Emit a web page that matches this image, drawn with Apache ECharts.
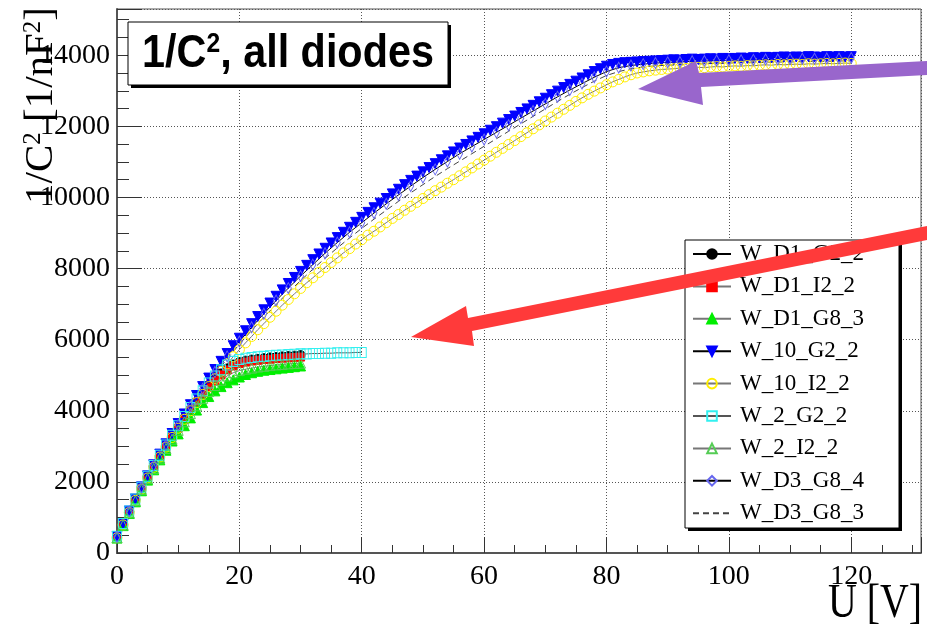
<!DOCTYPE html>
<html>
<head>
<meta charset="utf-8">
<script src="https://cdn.jsdelivr.net/npm/echarts@6/dist/echarts.min.js"></script>
<style>html,body{margin:0;padding:0;background:#fff}#chart{width:927px;height:625px}</style>
</head>
<body>
<div id="chart"></div>
<script>
// ---- Data ----
const U_0_120 = [0,1,2,3,4,5,6,7,8,9,10,11,12,13,14,15,16,17,18,19,20,21,22,23,24,25,26,27,28,29,30,31,32,33,34,35,36,37,38,39,40,41,42,43,44,45,46,47,48,49,50,51,52,53,54,55,56,57,58,59,60,61,62,63,64,65,66,67,68,69,70,71,72,73,74,75,76,77,78,79,80,81,82,83,84,85,86,87,88,89,90,91,92,93,94,95,96,97,98,99,100,101,102,103,104,105,106,107,108,109,110,111,112,113,114,115,116,117,118,119,120];
const U_0_120_step2 = [0,2,4,6,8,10,12,14,16,18,20,22,24,26,28,30,32,34,36,38,40,42,44,46,48,50,52,54,56,58,60,62,64,66,68,70,72,74,76,78,80,82,84,86,88,90,92,94,96,98,100,102,104,106,108,110,112,114,116,118,120];
const U_0_30 = [0,1,2,3,4,5,6,7,8,9,10,11,12,13,14,15,16,17,18,19,20,21,22,23,24,25,26,27,28,29,30];
const U_0_40 = [0,1,2,3,4,5,6,7,8,9,10,11,12,13,14,15,16,17,18,19,20,21,22,23,24,25,26,27,28,29,30,31,32,33,34,35,36,37,38,39,40];

const W_D1_G2_2 = [450,810,1160,1500,1830,2140,2440,2730,3010,3280,3540,3790,4030,4260,4480,4690,4880,5050,5190,5300,5370,5410,5440,5460,5480,5500,5510,5530,5540,5550,5570];
const W_D1_I2_2 = [440,800,1150,1490,1810,2120,2420,2710,2990,3260,3510,3760,4000,4230,4450,4650,4840,5010,5150,5260,5330,5370,5400,5420,5440,5450,5470,5480,5490,5500,5510];
const W_D1_G8_3 = [420,770,1110,1440,1750,2050,2340,2620,2890,3150,3350,3580,3800,4020,4230,4400,4560,4680,4790,4870,4950,5020,5070,5110,5140,5160,5180,5200,5220,5240,5260];
const W_10_G2_2 = [460,820,1180,1520,1860,2170,2480,2780,3070,3360,3640,3910,4170,4430,4680,4920,5160,5390,5610,5830,6040,6250,6450,6650,6840,7030,7220,7400,7580,7750,7920,8090,8250,8410,8570,8720,8870,9020,9160,9300,9440,9580,9710,9840,9970,10100,10230,10360,10480,10600,10720,10840,10950,11060,11170,11280,11390,11490,11590,11690,11790,11890,11990,12090,12190,12290,12390,12490,12590,12690,12790,12890,12990,13090,13180,13270,13360,13450,13540,13620,13690,13740,13770,13790,13800,13810,13820,13830,13840,13850,13860,13870,13860,13880,13890,13880,13890,13900,13890,13910,13900,13910,13920,13910,13930,13920,13940,13930,13940,13950,13940,13950,13940,13960,13950,13940,13960,13950,13960,13950,13960];
const W_10_I2_2 = [430,790,1140,1480,1800,2110,2410,2700,2980,3250,3510,3760,4000,4230,4460,4680,4900,5110,5320,5520,5720,5910,6090,6280,6450,6630,6800,6970,7130,7290,7440,7600,7740,7890,8030,8170,8300,8440,8560,8690,8810,8940,9050,9170,9290,9410,9520,9640,9750,9860,9970,10080,10190,10290,10400,10500,10610,10720,10830,10940,11050,11160,11270,11380,11490,11600,11710,11820,11930,12040,12150,12260,12370,12480,12590,12700,12800,12900,12990,13080,13170,13250,13320,13390,13450,13500,13530,13560,13580,13600,13610,13620,13640,13630,13650,13660,13650,13670,13680,13670,13690,13700,13690,13710,13700,13720,13730,13720,13740,13730,13740,13750,13740,13760,13750,13760,13770,13760,13770,13780,13770];
const W_2_G2_2 = [470,830,1180,1520,1850,2160,2460,2750,3040,3310,3580,3840,4090,4330,4560,4780,4980,5150,5290,5390,5440,5480,5500,5520,5530,5550,5560,5570,5580,5590,5600,5600,5610,5610,5620,5620,5630,5630,5630,5640,5640];
const W_2_I2_2 = [430,790,1130,1470,1790,2090,2380,2670,2940,3200,3450,3690,3920,4140,4350,4540,4710,4860,4980,5070,5130,5170,5200,5230,5250,5270,5290,5300,5320,5330,5340];
const W_D3_G8_4 = [450,1170,1840,2460,3040,3600,4120,4620,5090,5530,5950,6350,6730,7100,7450,7790,8110,8430,8730,9020,9290,9560,9820,10070,10320,10560,10790,11010,11230,11430,11630,11830,12030,12230,12430,12630,12830,13020,13200,13380,13540,13650,13710,13750,13780,13800,13810,13830,13840,13850,13860,13860,13870,13880,13880,13890,13900,13900,13910,13910,13920];
const W_D3_G8_3 = [440,1160,1830,2440,3020,3570,4080,4570,5030,5460,5870,6260,6630,6990,7330,7660,7980,8290,8580,8860,9130,9390,9640,9890,10130,10360,10590,10810,11020,11230,11440,11650,11860,12070,12280,12490,12700,12900,13090,13270,13430,13540,13620,13670,13700,13720,13730,13750,13760,13770,13780,13790,13790,13800,13810,13810,13820,13830,13830,13840,13840];

const seriesNames = ['W_D1_G2_2','W_D1_I2_2','W_D1_G8_3','W_10_G2_2','W_10_I2_2','W_2_G2_2','W_2_I2_2','W_D3_G8_4','W_D3_G8_3'];
const xTicks = [0,20,40,60,80,100,120];
const yTicks = [0,2000,4000,6000,8000,10000,12000,14000];

function pairs(xs, ys){ return xs.map((x,i)=>[x, ys[i]]); }

const SERIF = '"Liberation Serif", "Times New Roman", serif';
const SANS = '"Liberation Sans", Arial, sans-serif';

function mk(name, xs, ys, sym, size, fill, stroke, lineColor, extra){
  return Object.assign({
    name: name, type: 'line', data: pairs(xs, ys),
    symbol: sym, symbolSize: size, showAllSymbol: true,
    itemStyle: { color: fill, borderColor: stroke, borderWidth: 1 },
    lineStyle: { color: lineColor, width: 1 },
    emphasis: { disabled: true },
    z: 2
  }, extra || {});
}

const series = [
  mk(seriesNames[0], U_0_30, W_D1_G2_2, 'circle', 9, '#000', '#000', '#000'),
  mk(seriesNames[1], U_0_30, W_D1_I2_2, 'rect', 8, '#ff0000', '#ff0000', '#777'),
  mk(seriesNames[2], U_0_30, W_D1_G8_3, 'triangle', 10, '#00ee00', '#00ee00', '#777'),
  mk(seriesNames[3], U_0_120, W_10_G2_2, 'triangle', 10, '#0000ff', '#0000ff', '#000', {symbolRotate: 180}),
  mk(seriesNames[4], U_0_120, W_10_I2_2, 'circle', 10, 'rgba(0,0,0,0)', '#ffee00', '#777'),
  mk(seriesNames[5], U_0_40, W_2_G2_2, 'rect', [9,10], 'rgba(0,0,0,0)', '#33f0f0', '#555'),
  mk(seriesNames[6], U_0_30, W_2_I2_2, 'triangle', 10, 'rgba(0,0,0,0)', '#55cc55', '#777'),
  mk(seriesNames[7], U_0_120_step2, W_D3_G8_4, 'diamond', [6,11], 'rgba(0,0,0,0)', '#6666ee', '#000'),
  mk(seriesNames[8], U_0_120_step2, W_D3_G8_3, 'circle', 1, 'rgba(0,0,0,0)', 'rgba(0,0,0,0)', '#555', {showSymbol: false, lineStyle: {color: '#444', width: 1, type: [6,4]}})
];

const chart = echarts.init(document.getElementById('chart'), null, {renderer: 'canvas'});
chart.setOption({
  animation: false,
  backgroundColor: '#fff',
  grid: { left: 117, top: 9, right: 6, bottom: 72, show: true, borderColor: '#555', borderWidth: 1, containLabel: false, outerBoundsMode: 'none' },
  xAxis: {
    type: 'value', min: 0, max: 131.4, interval: 20,
    axisLine: { show: true, onZero: false, lineStyle: { color: '#555', width: 2 } },
    axisTick: { show: true, inside: true, length: 16, lineStyle: { color: '#333', width: 1 } },
    minorTick: { show: true, splitNumber: 4, length: 8, lineStyle: { color: '#333', width: 1 } },
    axisLabel: { show: true, showMaxLabel: false, margin: 10, fontFamily: SERIF, fontSize: 28, color: '#000',
      formatter: v => xTicks.indexOf(v) >= 0 ? String(v) : '' },
    splitLine: { show: true, lineStyle: { color: '#555', width: 1, type: [1,2] } }
  },
  yAxis: {
    type: 'value', min: 0, max: 15300, interval: 2000,
    axisLine: { show: true, onZero: false, lineStyle: { color: '#555', width: 2 } },
    axisTick: { show: true, inside: true, length: 25, lineStyle: { color: '#333', width: 1 } },
    minorTick: { show: true, splitNumber: 4, length: 12, lineStyle: { color: '#333', width: 1 } },
    axisLabel: { show: true, showMaxLabel: false, margin: 7, fontFamily: SERIF, fontSize: 28, color: '#000',
      formatter: v => yTicks.indexOf(v) >= 0 ? String(v) : '' },
    splitLine: { show: true, lineStyle: { color: '#555', width: 1, type: [1,2] } }
  },
  legend: {
    orient: 'vertical', left: 692, top: 242, padding: 0, itemGap: 8.4,
    itemWidth: 38, itemHeight: 12, selectedMode: false, z: 10,
    textStyle: { fontFamily: SERIF, fontSize: 23, color: '#000', lineHeight: 24, padding: [0,0,0,4] },
    data: seriesNames
  },
  series: series,
  graphic: [
    // title box with shadow
    { type: 'rect', z: 5, shape: { x: 131, y: 25, width: 320, height: 63 }, style: { fill: '#000' } },
    { type: 'rect', z: 6, shape: { x: 128, y: 22, width: 320, height: 63 }, style: { fill: '#fff', stroke: '#000', lineWidth: 1 } },
    { type: 'text', z: 7, x: 288, y: 54, scaleX: 0.88,
      style: { text: '{a|1/C}{s|2}{a|, all diodes}', align: 'center', verticalAlign: 'middle',
        rich: {
          a: { fontFamily: SANS, fontWeight: 'bold', fontSize: 47, fill: '#000', color: '#000' },
          s: { fontFamily: SANS, fontWeight: 'bold', fontSize: 28, fill: '#000', color: '#000', verticalAlign: 'top' }
        } } },
    // legend box with shadow
    { type: 'rect', z: 5, shape: { x: 688, y: 243, width: 214, height: 288 }, style: { fill: '#000' } },
    { type: 'rect', z: 6, shape: { x: 685, y: 240, width: 214, height: 288 }, style: { fill: '#fff', stroke: '#000', lineWidth: 1 } },
    // axis titles
    { type: 'text', z: 7, x: 62, y: 7, rotation: Math.PI / 2,
      style: { text: '{a|1/C}{s|2}{a| [1/nF}{s|2}{a|]}', align: 'right', verticalAlign: 'bottom',
        rich: {
          a: { fontFamily: SERIF, fontSize: 41, fill: '#000', color: '#000' },
          s: { fontFamily: SERIF, fontSize: 25, fill: '#000', color: '#000', verticalAlign: 'top' }
        } } },
    { type: 'text', z: 7, x: 922, y: 628, scaleX: 0.83,
      style: { text: 'U [V]', fontFamily: SERIF, fontSize: 48, fill: '#000', align: 'right', verticalAlign: 'bottom' } },
    // annotation arrows
    { type: 'polygon', z: 20, shape: { points: [[638,89],[696,61],[699,73],[927,61],[927,75],[701,87],[703,105]] }, style: { fill: '#9966cc' } },
    { type: 'polygon', z: 20, shape: { points: [[411,337],[466,306],[468,318],[927,226],[927,240],[472,331],[474,346]] }, style: { fill: '#ff3a3a' } }
  ]
});
</script>
</body>
</html>
